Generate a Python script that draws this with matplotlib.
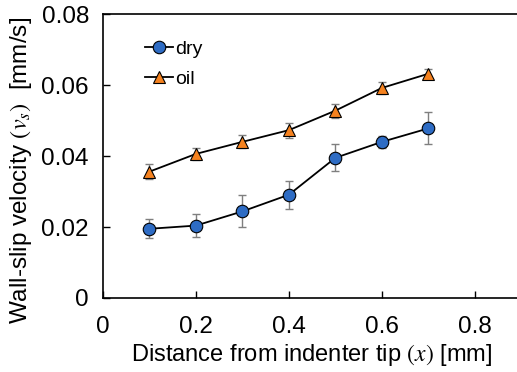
import numpy as np
import matplotlib
matplotlib.use("Agg")
import matplotlib.pyplot as plt

plt.rcParams['font.family'] = ['Liberation Sans', 'DejaVu Sans']
plt.rcParams['mathtext.fontset'] = 'stix'

# data
x = [0.1, 0.2, 0.3, 0.4, 0.5, 0.6, 0.7]
dry = [0.0195, 0.0204, 0.0244, 0.0291, 0.0395, 0.0440, 0.0478]
dry_err = [0.0027, 0.0032, 0.0045, 0.0040, 0.0038, 0.0017, 0.0045]
oil = [0.0356, 0.0406, 0.0440, 0.0473, 0.0528, 0.0592, 0.0632]
oil_err = [0.0022, 0.0017, 0.0018, 0.0021, 0.0020, 0.0017, 0.0014]

xticks = [0, 0.2, 0.4, 0.6, 0.8]
xticklabels = ['0', '0.2', '0.4', '0.6', '0.8']
yticks = [0, 0.02, 0.04, 0.06, 0.08]
yticklabels = ['0', '0.02', '0.04', '0.06', '0.08']

fig = plt.figure(figsize=(5.17, 3.72), dpi=100)
ax = fig.add_axes([0.199, 0.199, 0.8095, 0.763])

ax.errorbar(x, dry, yerr=dry_err, fmt='none', ecolor='#7f7f7f', elinewidth=1, capsize=3, zorder=1)
ax.errorbar(x, oil, yerr=oil_err, fmt='none', ecolor='#7f7f7f', elinewidth=1, capsize=3, zorder=1)
ax.plot(x, dry, '-o', color='black', lw=1.3, markersize=9, markerfacecolor='#2e6cc4',
        markeredgecolor='black', markeredgewidth=0.8, label='dry', zorder=3)
ax.plot(x, oil, '-^', color='black', lw=1.3, markersize=8, markerfacecolor='#f5821f',
        markeredgecolor='black', markeredgewidth=0.8, label='oil', zorder=3)

ax.set_xlim(0, 0.9)
ax.set_ylim(0, 0.08)
ax.set_xticks(xticks)
ax.set_xticklabels(xticklabels)
ax.set_yticks(yticks)
ax.set_yticklabels(yticklabels)
ax.tick_params(direction='in', length=5, width=1, labelsize=17.5)
ax.tick_params(axis='x', pad=13)
ax.tick_params(axis='y', pad=10)
for s in ax.spines.values():
    s.set_linewidth(1.2)

ax.set_xlabel(r'Distance from indenter tip $(x)$ [mm]', fontsize=17, labelpad=3)
ax.set_ylabel(r'Wall-slip velocity $(v_s)$  [mm/s]', fontsize=17.5)
ax.yaxis.set_label_coords(-0.165, 0.45)

ax.legend(loc='upper left', frameon=False, fontsize=14, handlelength=1.4,
          handletextpad=0.1, labelspacing=0.65, borderaxespad=0.5, bbox_to_anchor=(0.06, 0.97))

fig.savefig('out.png', dpi=100)
